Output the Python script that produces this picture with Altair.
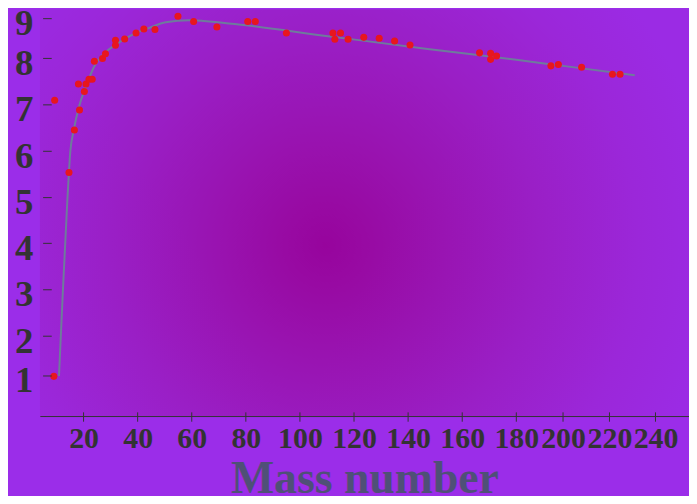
import altair as alt
import pandas as pd

# scatter points (mass number, binding energy per nucleon in MeV)
pt_mass = [9.0, 9.3, 14.6, 16.6, 18.5, 18.1, 20.3, 20.9, 22.0, 23.2,
           24.0, 27.0, 28.1, 31.8, 31.8, 35.2, 39.4, 42.3, 46.4, 54.9,
           60.7, 69.3, 80.7, 83.5, 95.0, 112.2, 115.0, 112.9, 117.8, 123.6,
           129.3, 135.0, 140.7, 166.4, 170.5, 170.5, 172.7, 194.8, 198.0, 208.0,
           221.3, 224.6]
pt_be = [0.99, 7.10, 5.54, 6.46, 6.89, 7.45, 7.29, 7.45, 7.55, 7.55,
         7.94, 8.00, 8.12, 8.46, 8.33, 8.49, 8.64, 8.74, 8.73, 9.06,
         8.93, 8.79, 8.93, 8.93, 8.64, 8.64, 8.64, 8.48, 8.48, 8.53,
         8.51, 8.44, 8.34, 8.14, 8.13, 7.98, 8.06, 7.84, 7.87, 7.81,
         7.66, 7.66]

# fitted curve
curve_mass = [10.9, 12.2, 14.0, 15.1, 16.3, 18.5, 21.2, 23.7, 25.9, 32.0,
              38.1, 44.3, 50.4, 59.0, 73.7, 110.4, 147.2, 180.0, 200.0, 231.0]
curve_be = [1.0, 2.79, 4.94, 6.0, 6.44, 7.0, 7.44, 7.8, 8.0, 8.35,
            8.6, 8.77, 8.91, 8.96, 8.88, 8.56, 8.24, 7.97, 7.84, 7.64]

x_ticks = [20, 40, 60, 80, 100, 120, 140, 160, 180, 200, 220, 240]
y_ticks = [1, 2, 3, 4, 5, 6, 7, 8, 9]

# axis scale breakpoints as drawn in the original
x_dom = [3.8, 20, 180, 200, 220, 240, 254.6]
x_rng = [0, 44, 479.3, 526.3, 573, 619.3, 653]
y_dom = [0, 1, 2, 3, 4, 5, 6, 7, 8, 9, 9.23]
y_rng = [409, 368.7, 328.7, 282, 235.3, 189.3, 142.7, 96, 49.3, 9.3, 0]

pts = pd.DataFrame({"mass": pt_mass, "be": pt_be})
curve = pd.DataFrame({"mass": curve_mass, "be": curve_be})
xt = pd.DataFrame({"mass": x_ticks})
yt = pd.DataFrame({"be": y_ticks})

FONT = "Liberation Serif"
AX = "#333333"

x_scale = alt.Scale(domain=x_dom, range=x_rng, nice=False, zero=False)
y_scale = alt.Scale(domain=y_dom, range=y_rng, nice=False, zero=False)

x_axis = alt.Axis(values=x_ticks, title="Mass number", grid=False, ticks=False, tickSize=0,
                  labelFont=FONT, labelFontWeight="bold", labelFontSize=30, labelColor=AX,
                  labelPadding=8, labelOverlap=False, labelFlush=False,
                  domainColor=AX, domainWidth=1,
                  titleFont=FONT, titleFontWeight="bold", titleFontSize=46,
                  titleColor="#4f5077", titlePadding=3)
y_axis = alt.Axis(values=y_ticks, title=None, grid=False, ticks=False, tickSize=0,
                  labelFont=FONT, labelFontWeight="bold", labelFontSize=37, labelColor=AX,
                  labelPadding=12, labelOffset=5, labelOverlap=False, labelFlush=False,
                  domainColor=AX, domainWidth=1, offset=-5)

grad = {
    "gradient": "radial",
    "x1": 0.44, "y1": 0.55, "r1": 0,
    "x2": 0.44, "y2": 0.55, "r2": 0.6,
    "stops": [
        {"offset": 0.0, "color": "#97049d"},
        {"offset": 0.12, "color": "#980ba4"},
        {"offset": 0.3, "color": "#9914b2"},
        {"offset": 0.55, "color": "#9a1fc6"},
        {"offset": 0.8, "color": "#9b27d9"},
        {"offset": 1.0, "color": "#9b2be4"},
    ],
}

bg = alt.Chart(alt.Data(values=[{}])).mark_rect(fill=grad, strokeWidth=0).encode(
    x=alt.value(0), x2=alt.value("width"), y=alt.value(0), y2=alt.value("height")
)

line = alt.Chart(curve).mark_line(color="#6e7b9c", strokeWidth=2, interpolate="monotone").encode(
    x=alt.X("mass:Q", scale=x_scale, axis=x_axis),
    y=alt.Y("be:Q", scale=y_scale, axis=y_axis),
)

points = alt.Chart(pts).mark_circle(color="#e8161e", size=50, opacity=1).encode(
    x=alt.X("mass:Q", scale=x_scale, axis=x_axis),
    y=alt.Y("be:Q", scale=y_scale, axis=y_axis),
)

xtick = alt.Chart(xt).mark_rule(color=AX, strokeWidth=1).encode(
    x=alt.X("mass:Q", scale=x_scale, axis=x_axis),
    y=alt.value(405.3), y2=alt.value(414.7),
)
ytick = alt.Chart(yt).mark_rule(color=AX, strokeWidth=1).encode(
    y=alt.Y("be:Q", scale=y_scale, axis=y_axis),
    x=alt.value(3.3), x2=alt.value(12),
)

chart = alt.layer(bg, line, points, xtick, ytick).properties(
    width=653, height=409,
    padding={"left": 32, "top": 0, "right": 0, "bottom": 79},
    autosize=alt.AutoSizeParams(type="none"),
    background="#9b2de9",
).configure_view(strokeWidth=0)

chart.save("out.html", embed_options={"renderer": "svg", "actions": False})
